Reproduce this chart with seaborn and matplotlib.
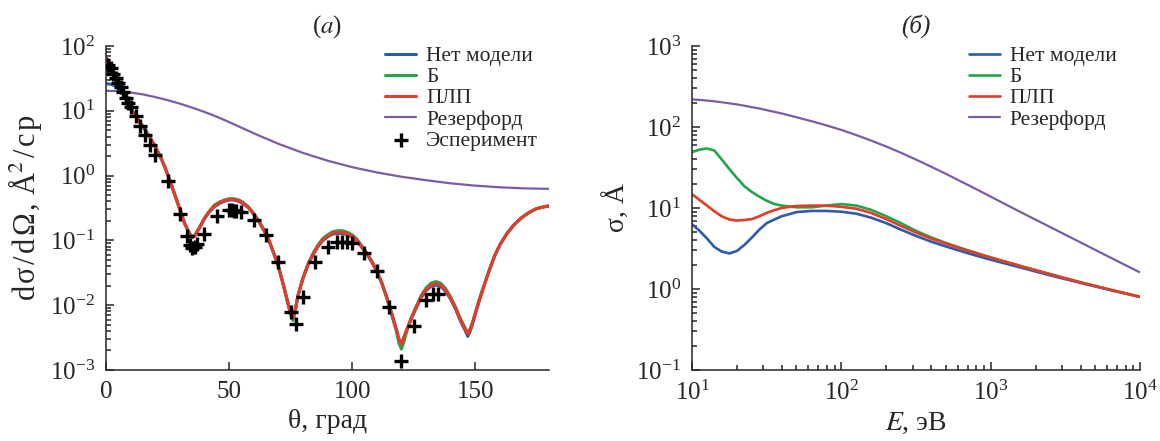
import matplotlib
matplotlib.use("Agg")
import matplotlib.pyplot as plt
import seaborn as sns

# ---- panel (a): differential cross section vs angle ----
theta = [0, 2, 4, 6, 8, 10, 12, 14, 16, 18, 20, 22, 24, 26, 28, 30, 32, 34, 35, 36,
         38, 40, 42, 44, 46, 48, 50, 52, 54, 56, 58, 60, 62, 64, 66, 68, 70, 72, 74, 75,
         76, 77, 78, 80, 82, 84, 86, 88, 90, 92, 94, 96, 98, 100, 102, 104, 106, 108, 110, 112,
         114, 116, 118, 119, 120, 121, 122, 123, 124, 126, 128, 130, 132, 134, 136, 138, 140, 142, 144, 146,
         147, 148, 149, 150, 152, 154, 156, 158, 160, 163, 166, 169, 172, 175, 178, 180]

dcs_none = [26.3, 25.7, 24.0, 21.9, 15.1, 11.0, 8.3, 6.5, 5.0, 3.8,
            2.8, 2.0, 1.32, 0.83, 0.50, 0.30, 0.18, 0.125, 0.111, 0.116,
            0.156, 0.216, 0.275, 0.33, 0.37, 0.40, 0.42, 0.42, 0.40, 0.36,
            0.315, 0.253, 0.197, 0.146, 0.104, 0.065, 0.040, 0.021, 0.0105, 0.0074,
            0.0063, 0.0089, 0.0141, 0.026, 0.041, 0.059, 0.079, 0.099, 0.113, 0.125,
            0.128, 0.128, 0.123, 0.113, 0.097, 0.077, 0.061, 0.046, 0.033, 0.0220,
            0.0134, 0.0076, 0.0042, 0.0030, 0.0025, 0.0032, 0.0040, 0.0049, 0.0061, 0.0090,
            0.0130, 0.0167, 0.0196, 0.0205, 0.0195, 0.0163, 0.0124, 0.0087, 0.0057, 0.0040,
            0.0033, 0.0040, 0.0052, 0.0072, 0.0130, 0.0222, 0.037, 0.059, 0.085, 0.129,
            0.178, 0.226, 0.272, 0.31, 0.33, 0.34]

dcs_b = [67.6, 45.7, 31.6, 21.9, 15.1, 11.0, 8.3, 6.5, 5.0, 3.8,
         2.8, 2.0, 1.32, 0.83, 0.50, 0.30, 0.18, 0.128, 0.114, 0.119,
         0.160, 0.222, 0.285, 0.35, 0.39, 0.42, 0.44, 0.44, 0.42, 0.38,
         0.325, 0.26, 0.203, 0.150, 0.106, 0.066, 0.040, 0.021, 0.0102, 0.0071,
         0.0058, 0.0086, 0.0140, 0.026, 0.043, 0.062, 0.084, 0.106, 0.122, 0.136,
         0.141, 0.141, 0.134, 0.122, 0.104, 0.082, 0.064, 0.048, 0.034, 0.0222,
         0.0132, 0.0073, 0.0039, 0.0026, 0.0021, 0.0027, 0.0037, 0.0049, 0.0063, 0.0095,
         0.0140, 0.0184, 0.0218, 0.0232, 0.0218, 0.0180, 0.0135, 0.0094, 0.0062, 0.0044,
         0.0038, 0.0044, 0.0056, 0.0076, 0.0134, 0.0225, 0.037, 0.059, 0.085, 0.129,
         0.178, 0.226, 0.272, 0.31, 0.33, 0.34]

dcs_plp = [67.6, 45.7, 31.6, 21.9, 15.1, 11.0, 8.3, 6.5, 5.0, 3.8,
           2.8, 2.0, 1.32, 0.83, 0.50, 0.30, 0.18, 0.126, 0.112, 0.117,
           0.158, 0.219, 0.28, 0.34, 0.38, 0.41, 0.43, 0.43, 0.41, 0.37,
           0.32, 0.257, 0.20, 0.148, 0.105, 0.066, 0.040, 0.021, 0.0105, 0.0074,
           0.0063, 0.0089, 0.0141, 0.026, 0.042, 0.060, 0.081, 0.102, 0.117, 0.129,
           0.133, 0.133, 0.127, 0.117, 0.100, 0.079, 0.062, 0.047, 0.034, 0.0224,
           0.0135, 0.0076, 0.0042, 0.0030, 0.0025, 0.0032, 0.0040, 0.0050, 0.0063, 0.0093,
           0.0135, 0.0174, 0.0204, 0.0216, 0.0204, 0.0170, 0.0129, 0.0091, 0.0060, 0.0042,
           0.0036, 0.0042, 0.0054, 0.0074, 0.0132, 0.0224, 0.037, 0.059, 0.085, 0.129,
           0.178, 0.226, 0.272, 0.31, 0.33, 0.34]

ruth_theta = [0, 5, 10, 15, 20, 25, 30, 35, 40, 45, 50, 55, 60, 70, 80, 90, 100, 110, 120,
              130, 140, 150, 160, 170, 180]
dcs_ruth = [20.4, 20.1, 19.2, 17.9, 16.3, 14.6, 12.9, 11.2, 9.6, 8.1, 6.7, 5.5, 4.5, 3.1,
            2.24, 1.70, 1.35, 1.12, 0.96, 0.85, 0.76, 0.70, 0.66, 0.635, 0.625]

exp_theta = [1, 2, 3, 4, 5, 6, 7, 8, 9, 10, 12, 14, 16, 18, 20, 25, 30, 33, 34, 35, 36, 37,
             40, 45, 50, 51, 52, 53, 55, 60, 65, 70, 75, 77, 80, 85, 90, 94, 96, 98, 100,
             105, 110, 115, 120, 125, 130, 133, 135]
exp_dcs = [51, 45, 37, 32, 27, 23, 19.5, 16, 13.2, 11.5, 8.3, 5.9, 4.3, 2.95, 2.1, 0.83,
           0.26, 0.115, 0.085, 0.076, 0.079, 0.089, 0.126, 0.234, 0.29, 0.29, 0.28, 0.28,
           0.27, 0.204, 0.12, 0.047, 0.0079, 0.0052, 0.0135, 0.046, 0.078, 0.095, 0.095,
           0.095, 0.09, 0.065, 0.034, 0.0095, 0.0014, 0.0048, 0.012, 0.015, 0.015]

# ---- panel (б): total cross section vs energy ----
energy = [10, 11.2, 12.6, 14.1, 15.8, 17.8, 20, 22.4, 25.1, 28.2, 31.6, 35.5, 39.8,
          50, 63, 79, 100, 126, 158, 200, 251, 316, 398, 501, 631, 794, 1000,
          1585, 2512, 3981, 6310, 10000]
sig_none = [6.3, 5.25, 4.2, 3.3, 2.9, 2.75, 2.95, 3.5, 4.3, 5.4, 6.5, 7.2, 7.9,
            8.9, 9.2, 9.2, 9.0, 8.5, 7.6, 6.5, 5.4, 4.52, 3.85, 3.35, 2.94, 2.59, 2.3,
            1.84, 1.47, 1.19, 0.97, 0.80]
sig_b = [49, 52.5, 54.3, 51.3, 39.8, 30.2, 23.4, 18.6, 15.8, 13.8, 12.3, 11.2, 10.7,
         10.2, 10.2, 10.7, 11.2, 10.7, 9.5, 7.9, 6.5, 5.22, 4.35, 3.7, 3.2, 2.8, 2.45,
         1.92, 1.52, 1.21, 0.98, 0.80]
sig_plp = [14.8, 12.6, 10.7, 9.1, 7.9, 7.2, 7.0, 7.1, 7.3, 7.9, 8.7, 9.4, 10.0,
           10.6, 10.7, 10.7, 10.35, 9.8, 8.7, 7.28, 6.0, 4.98, 4.2, 3.63, 3.16, 2.77, 2.45,
           1.92, 1.52, 1.21, 0.98, 0.80]
sig_ruth = [219, 216, 212, 207.5, 202, 196, 190, 183, 176, 169, 161.4, 154, 147,
            132, 118, 105, 92, 79.4, 68, 57.4, 48, 39.6, 32.4, 26.4, 21.3, 17.2, 13.8,
            8.9, 5.8, 3.77, 2.45, 1.6]

labels = ["Нет модели", "Б", "ПЛП", "Резерфорд"]
colors = ["#2a5caa", "#23a54a", "#e63a2b", "#7d5ca6"]

sns.set_theme(style="ticks")
plt.rcParams["font.family"] = ["Liberation Serif", "DejaVu Serif"]
plt.rcParams["mathtext.fontset"] = "stix"
plt.rcParams["axes.linewidth"] = 1.1

fig = plt.figure(figsize=(11.6, 4.41), dpi=100)
ax1 = fig.add_axes([0.0914, 0.161, 0.3819, 0.7347])
ax2 = fig.add_axes([0.5966, 0.161, 0.3862, 0.7347])

# left panel
for y, lab, c in zip([dcs_none, dcs_b, dcs_plp], labels[:3], colors[:3]):
    sns.lineplot(x=theta, y=y, ax=ax1, color=c, lw=2.2, label=lab, sort=False, estimator=None)
sns.lineplot(x=ruth_theta, y=dcs_ruth, ax=ax1, color=colors[3], lw=1.6, label=labels[3],
             sort=False, estimator=None)
sns.scatterplot(x=exp_theta, y=exp_dcs, ax=ax1, marker="+", s=110, color="black",
                linewidth=2.4, label="Эсперимент", zorder=5)
ax1.set_yscale("log")
ax1.set_xlim(0, 180)
ax1.set_ylim(1e-3, 1e2)
ax1.set_xticks([0, 50, 100, 150])
ax1.set_xlabel("θ, град", fontsize=20, labelpad=4)
hair = "\u200a"
ax1.set_ylabel(hair.join("dσ/dΩ,") + " Å$^2$" + hair + "/" + hair + "с" + hair + "р",
               fontsize=22, labelpad=4)
ax1.set_title("($a$)", fontsize=18, pad=10)

# right panel
for y, lab, c in zip([sig_none, sig_b, sig_plp], labels[:3], colors[:3]):
    sns.lineplot(x=energy, y=y, ax=ax2, color=c, lw=1.9, label=lab, sort=False, estimator=None)
sns.lineplot(x=energy, y=sig_ruth, ax=ax2, color=colors[3], lw=1.6, label=labels[3],
             sort=False, estimator=None)
ax2.set_xscale("log")
ax2.set_yscale("log")
ax2.set_xlim(10, 1e4)
ax2.set_ylim(0.1, 1e3)
ax2.set_xlabel("$\\it{E}$, эВ", fontsize=20, labelpad=4)
ax2.set_ylabel("σ, Å", fontsize=20, labelpad=4)
ax2.set_title("(б)", fontsize=18, pad=10, fontstyle="italic")

for ax, x0 in [(ax1, 0.63), (ax2, 0.618)]:
    sns.despine(ax=ax)
    ax.tick_params(which="both", direction="in", labelsize=18, pad=8, width=1.1)
    ax.tick_params(which="major", length=6)
    ax.tick_params(which="minor", length=3.6)
    h, l = ax.get_legend_handles_labels()
    ax.legend(h, l, loc="upper left", bbox_to_anchor=(x0, 1.0), frameon=False,
              fontsize=15.5, handlelength=1.45, handletextpad=0.45, labelspacing=0.05,
              borderpad=0, borderaxespad=0)

fig.savefig("out.png", dpi=100)
